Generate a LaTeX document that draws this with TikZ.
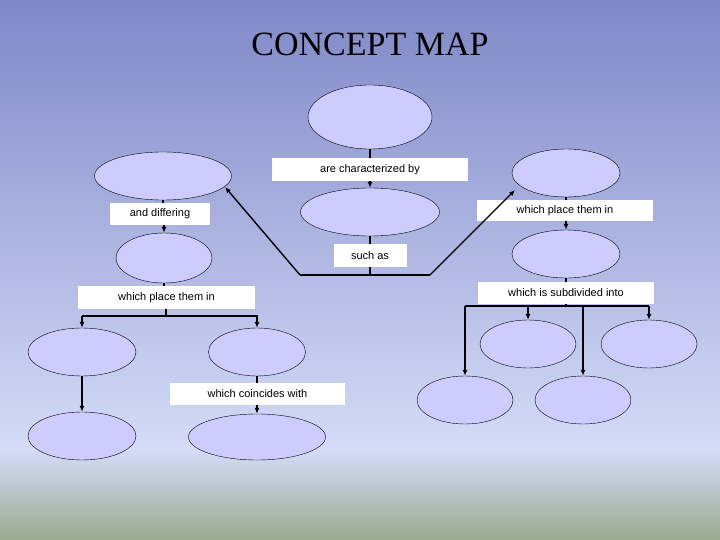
\documentclass[tikz,border=0pt]{standalone}
\usepackage{fontspec}
\setmainfont{Liberation Sans}
\newfontfamily\titlefont{Liberation Serif}
\usetikzlibrary{arrows.meta,shapes.geometric}
\definecolor{bgtop}{HTML}{8088C8}
\definecolor{bgmid}{HTML}{D4DCF8}
\definecolor{bgbot}{HTML}{9AAA90}
\definecolor{ellfill}{HTML}{CCCCFF}
\tikzset{
  concept/.style 2 args={draw=black, fill=ellfill, shape=ellipse, minimum width=#1, minimum height=#2, inner sep=0pt},
  lbl/.style 2 args={fill=white, minimum width=#1, minimum height=#2, inner sep=0pt, font=\fontsize{11}{12}\selectfont},
  con/.style={draw=black, line width=1.4pt},
  arr/.style={con, -{Latex[length=6pt,width=5pt]}},
}
\begin{document}
\begin{tikzpicture}[x=1pt,y=-1pt]
\useasboundingbox (0,0) rectangle (720,540);
\shade[top color=bgtop, bottom color=bgmid] (0,0) rectangle (720,450);
\shade[top color=bgmid, bottom color=bgbot] (0,450) rectangle (720,540);
\node (title) at (370,44) {\titlefont\fontsize{34}{36}\selectfont CONCEPT MAP};
% ellipses
\node[concept={124pt}{64pt}] (top) at (370,117) {};
\node[concept={139pt}{48pt}] (mid) at (370,212) {};
\node[concept={137pt}{48pt}] (L1) at (163,176) {};
\node[concept={96pt}{50pt}] (L2) at (164,258) {};
\node[concept={108pt}{48pt}] (LL1) at (82,352) {};
\node[concept={97pt}{48pt}] (LL2) at (257,352) {};
\node[concept={108pt}{48pt}] (LL3) at (82,436) {};
\node[concept={137pt}{46pt}] (LL4) at (257,437) {};
\node[concept={108pt}{48pt}] (R1) at (566,173) {};
\node[concept={108pt}{48pt}] (R2) at (566,254) {};
\node[concept={96pt}{48pt}] (R3) at (528,344) {};
\node[concept={96pt}{48pt}] (R4) at (649,344) {};
\node[concept={96pt}{48pt}] (R5) at (465,400) {};
\node[concept={96pt}{48pt}] (R6) at (583,400) {};
% labels
\node[lbl={196pt}{23pt}] (b1) at (370,169.5) {are characterized by};
\node[lbl={73pt}{23pt}] (b2) at (370,255.5) {such as};
\node[lbl={100pt}{22pt}] (b3) at (160,214) {and differing};
\node[lbl={177pt}{23pt}] (b4) at (166.5,297.5) {which place them in};
\node[lbl={175pt}{22pt}] (b5) at (257.5,394) {which coincides with};
\node[lbl={176pt}{21pt}] (b6) at (565,210.5) {which place them in};
\node[lbl={176pt}{22pt}] (b7) at (566,293) {which is subdivided into};
% junctions
\coordinate (jl) at (300,275);
\coordinate (jr) at (430,275);
\coordinate (jm) at (370,275);
\coordinate (ja) at (166,316);
\coordinate (jb) at (566,306);
\coordinate (tl) at (225,187);
\coordinate (tr) at (515,190);
% connectors
\draw[con] (top.south) -- (b1.north);
\draw[arr] (b1.south) -- (mid.north);
\draw[con] (mid.south) -- (b2.north);
\draw[con] (b2.south) -- (jm);
\draw[con] (jl) -- (jr);
\draw[arr] (jl) -- (tl);
\draw[arr] (jr) -- (tr);
\draw[con] (L1.south) -- (b3.north -| L1.south);
\draw[arr] (b3.south -| L2.north) -- (L2.north);
\draw[con] (L2.south) -- (b4.north -| L2.south);
\draw[con] (b4.south -| ja) -- (ja);
\draw[con] (82,316) -- (258,316);
\draw[arr] (82,316) -- (LL1.north);
\draw[arr] (257,316) -- (LL2.north);
\draw[arr] (LL1.south) -- (LL3.north);
\draw[con] (LL2.south) -- (b5.north -| LL2.south);
\draw[arr] (b5.south -| LL4.north) -- (LL4.north);
\draw[con] (R1.south) -- (b6.north -| R1.south);
\draw[arr] (b6.south -| R2.north) -- (R2.north);
\draw[con] (R2.south) -- (b7.north -| R2.south);
\draw[con] (b7.south -| jb) -- (jb);
\draw[con] (465,306) -- (649,306);
\draw[arr] (465,306) -- (R5.north);
\draw[arr] (528,306) -- (R3.north);
\draw[arr] (583,306) -- (R6.north);
\draw[arr] (649,306) -- (R4.north);
\end{tikzpicture}
\end{document}
